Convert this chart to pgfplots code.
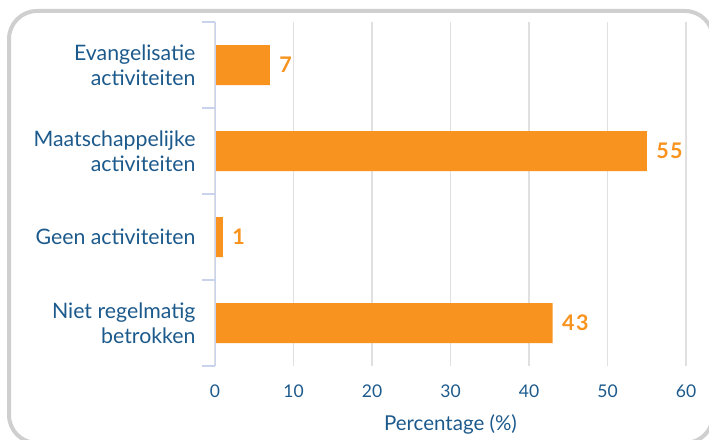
\documentclass[border=0pt]{standalone}
\usepackage{pgfplots}
\pgfplotsset{compat=1.18}
\usepackage{fontspec}
\setmainfont{Lato}
\newfontfamily\valfont[LetterSpace=7]{Lato}

\definecolor{barorange}{HTML}{F7931E}
\definecolor{txtblue}{HTML}{1D5A8C}
\definecolor{yaxis}{HTML}{C9D3EE}
\definecolor{gridgray}{HTML}{E0E0E0}
\definecolor{boxgray}{HTML}{CFCFCF}

\begin{document}
\begin{tikzpicture}
\clip (0,0) rectangle (709pt,439pt);
\path[use as bounding box] (0,0) rectangle (709pt,439pt);
% outer frame, runs off the right and bottom edge
\draw[boxgray, line width=4pt, rounded corners=28pt] (9pt,428pt) rectangle (713pt,-4pt);

\begin{axis}[
  at={(215pt,73pt)}, anchor=south west,
  scale only axis,
  width=471pt, height=344pt,
  xbar, bar width=40pt,
  xmin=0, xmax=60,
  ymin=-0.5, ymax=3.5,
  y dir=reverse,
  xtick={0,10,...,60},
  ytick={0,1,2,3},
  yticklabels={{Evangelisatie\\activiteiten},{Maatschappelijke\\activiteiten},{Geen activiteiten},{Niet regelmatig\\betrokken}},
  minor ytick={-0.5,0.5,1.5,2.5,3.5},
  ytick pos=left,
  major tick length=0pt,
  minor tick length=13pt,
  tick align=outside,
  minor tick style={yaxis, line width=1.5pt},
  axis line style={draw=none},
  xmajorgrids,
  major grid style={gridgray, line width=1.5pt},
  /pgf/number format/assume math mode=true,
  yticklabel style={align=right, font=\fontsize{21.3}{25}\selectfont, text=txtblue, xshift=-16pt},
  xticklabel style={font=\fontsize{17.5}{20}\selectfont, text=txtblue, yshift=-15pt},
  xlabel={Percentage (\%)},
  xlabel style={font=\fontsize{20.5}{24}\selectfont, text=txtblue, yshift=-10pt},
  nodes near coords,
  nodes near coords style={font=\valfont\bfseries\fontsize{21.5}{24}\selectfont, text=barorange, anchor=west, xshift=6pt},
]
\addplot[fill=barorange, draw=none] coordinates {
(7,0)
(55,1)
(1,2)
(43,3)
};
\draw[yaxis, line width=1.5pt] (axis cs:0,-0.5) -- (axis cs:0,3.5);
\end{axis}
\end{tikzpicture}
\end{document}
